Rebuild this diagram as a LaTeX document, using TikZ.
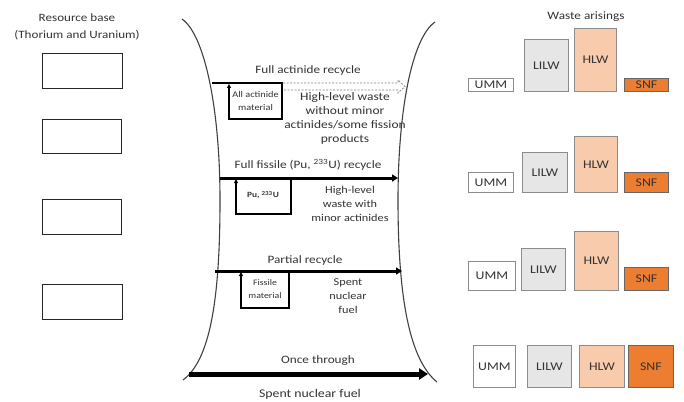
\documentclass[tikz,border=0pt]{standalone}
\usepackage{fontspec}
\setmainfont{Carlito}[FakeStretch=1.17]
\usetikzlibrary{arrows.meta}
\definecolor{txt}{HTML}{333333}
\definecolor{lilw}{HTML}{E7E6E6}
\definecolor{hlw}{HTML}{F8CBAD}
\definecolor{snf}{HTML}{ED7D31}
\definecolor{edge}{HTML}{8C8C8C}
\begin{document}
\begin{tikzpicture}[x=1pt,y=-1pt,
  lab/.style={font=\fontsize{11.3}{13}\selectfont, text=txt, inner sep=0},
  mid/.style={font=\fontsize{10.5}{14}\selectfont, text=txt, align=center, inner sep=0},
  tiny/.style={font=\fontsize{8.6}{13}\selectfont, text=txt, align=center, inner sep=0},
  resbox/.style={draw=black!85, line width=1.3pt, minimum width=80pt, minimum height=35pt, anchor=north west, inner sep=0},
  wbox/.style={draw=edge, line width=0.9pt, anchor=south west, inner sep=0, font=\fontsize{11.8}{13}\selectfont, text=txt},
  funnel/.style={draw=black!75, line width=1.1pt},
  loopline/.style={draw=black, line width=1.8pt, -{Triangle[length=4pt,width=4pt]}},
  flow/.style={draw=black, line width=3pt, -{Triangle[length=6pt,width=7pt]}},
  bigflow/.style={draw=black, line width=5pt, -{Triangle[length=9pt,width=11pt]}}
]
\path[use as bounding box] (0,0) rectangle (684,401);

% Resource base
\node[lab, align=center, font=\fontsize{11.2}{17}\selectfont] (restitle) at (77,26.5) {Resource base\\(Thorium and Uranium)};
\node[resbox] (r1) at (42,53) {};
\node[resbox, minimum width=79pt, minimum height=34pt] (r2) at (42,119) {};
\node[resbox, minimum width=79pt] (r3) at (42,199) {};
\node[resbox] (r4) at (42,284) {};

% Funnel
\coordinate (lt) at (182,19); \coordinate (lm) at (220,200); \coordinate (lb) at (183,380);
\coordinate (rt) at (435,22); \coordinate (rm) at (398,200); \coordinate (rb) at (437,382);
\draw[funnel] (lt) .. controls (205,35) and (220,110) .. (lm) .. controls (220,300) and (210,360) .. (lb);
\draw[funnel] (rt) .. controls (412,38) and (398,110) .. (rm) .. controls (398,300) and (410,360) .. (rb);

% Full actinide recycle
\node[lab] (t1) at (308,70) {Full actinide recycle};
\coordinate (a1) at (212,83); \coordinate (a2) at (282,83); \coordinate (a3) at (282,119);
\coordinate (a4) at (229,119); \coordinate (a5) at (229,84);
\draw[loopline] (a1) -- (a2) -- (a3) -- (a4) -- (a5);
\node[tiny, font=\fontsize{8.8}{13}\selectfont] (aam) at (255.5,101) {All actinide\\material};
\coordinate (d1) at (283,83); \coordinate (d2) at (398,83); \coordinate (d3) at (398,80);
\coordinate (d4) at (405,86.5); \coordinate (d5) at (398,93); \coordinate (d6) at (398,90); \coordinate (d7) at (283,90);
\draw[gray, dashed, line width=0.7pt, dash pattern=on 2pt off 1.5pt] (d1) -- (d2) -- (d3) -- (d4) -- (d5) -- (d6) -- (d7);
\node[mid, font=\fontsize{11.5}{14}\selectfont] (hlw1) at (345,118) {High-level waste\\without minor\\actinides/some fission\\products};

% Full fissile recycle
\node[lab] (t2) at (308,165) {Full fissile (Pu, \textsuperscript{233}U) recycle};
\coordinate (f1) at (220,178); \coordinate (f2) at (398,178);
\draw[flow] (f1) -- (f2);
\coordinate (b1) at (291,178); \coordinate (b2) at (291,214); \coordinate (b3) at (236,214); \coordinate (b4) at (236,179);
\draw[loopline] (b1) -- (b2) -- (b3) -- (b4);
\node[tiny, font=\bfseries\fontsize{8}{10}\selectfont] (pu) at (263,195) {Pu, \textsuperscript{233}U};
\node[mid] (hlw2) at (350,204) {High-level\\waste with\\minor actinides};

% Partial recycle
\node[lab] (t3) at (305,260) {Partial recycle};
\coordinate (p1) at (215,271); \coordinate (p2) at (402,271);
\draw[flow] (p1) -- (p2);
\coordinate (c1) at (289,271); \coordinate (c2) at (289,308); \coordinate (c3) at (241,308); \coordinate (c4) at (241,272);
\draw[loopline] (c1) -- (c2) -- (c3) -- (c4);
\node[tiny, font=\fontsize{8.4}{13}\selectfont] (fm) at (265,289.5) {Fissile\\material};
\node[mid] (snf3) at (348,296) {Spent\\nuclear\\fuel};

% Once through
\node[lab] (t4) at (318,361) {Once through};
\coordinate (o1) at (189,374); \coordinate (o2) at (428,374);
\draw[bigflow] (o1) -- (o2);
\node[lab, font=\fontsize{11.8}{13}\selectfont] (t5) at (310,394) {Spent nuclear fuel};

% Waste arisings
\node[lab] (wtitle) at (586,17) {Waste arisings};
% row 1
\node[wbox, fill=white, minimum width=45pt, minimum height=13pt] (u1) at (468,92) {UMM};
\node[wbox, fill=lilw, minimum width=44pt, minimum height=52pt] (l1) at (524,92) {LILW};
\node[wbox, fill=hlw, minimum width=42pt, minimum height=63pt] (h1) at (574,92) {HLW};
\node[wbox, fill=snf, draw=black!60, minimum width=44pt, minimum height=13pt] (s1) at (624,92) {SNF};
% row 2
\node[wbox, fill=white, minimum width=45pt, minimum height=20pt] (u2) at (468,193) {UMM};
\node[wbox, fill=lilw, minimum width=45pt, minimum height=40pt] (l2) at (522,193) {LILW};
\node[wbox, fill=hlw, minimum width=43pt, minimum height=56pt] (h2) at (574,193) {HLW};
\node[wbox, fill=snf, draw=black!60, minimum width=44pt, minimum height=20pt] (s2) at (624,193) {SNF};
% row 3
\node[wbox, fill=white, minimum width=47pt, minimum height=29pt] (u3) at (468,291) {UMM};
\node[wbox, fill=lilw, minimum width=44pt, minimum height=42pt] (l3) at (521,291) {LILW};
\node[wbox, fill=hlw, minimum width=44pt, minimum height=59pt] (h3) at (574,291) {HLW};
\node[wbox, fill=snf, draw=black!60, minimum width=44pt, minimum height=23pt] (s3) at (624,291) {SNF};
% row 4
\node[wbox, fill=white, minimum width=42pt, minimum height=42pt] (u4) at (473,388) {UMM};
\node[wbox, fill=lilw, minimum width=44pt, minimum height=42pt] (l4) at (527,388) {LILW};
\node[wbox, fill=hlw, minimum width=45pt, minimum height=42pt] (h4) at (579,388) {HLW};
\node[wbox, fill=snf, draw=black!60, minimum width=45pt, minimum height=42pt] (s4) at (628,388) {SNF};
\end{tikzpicture}
\end{document}
